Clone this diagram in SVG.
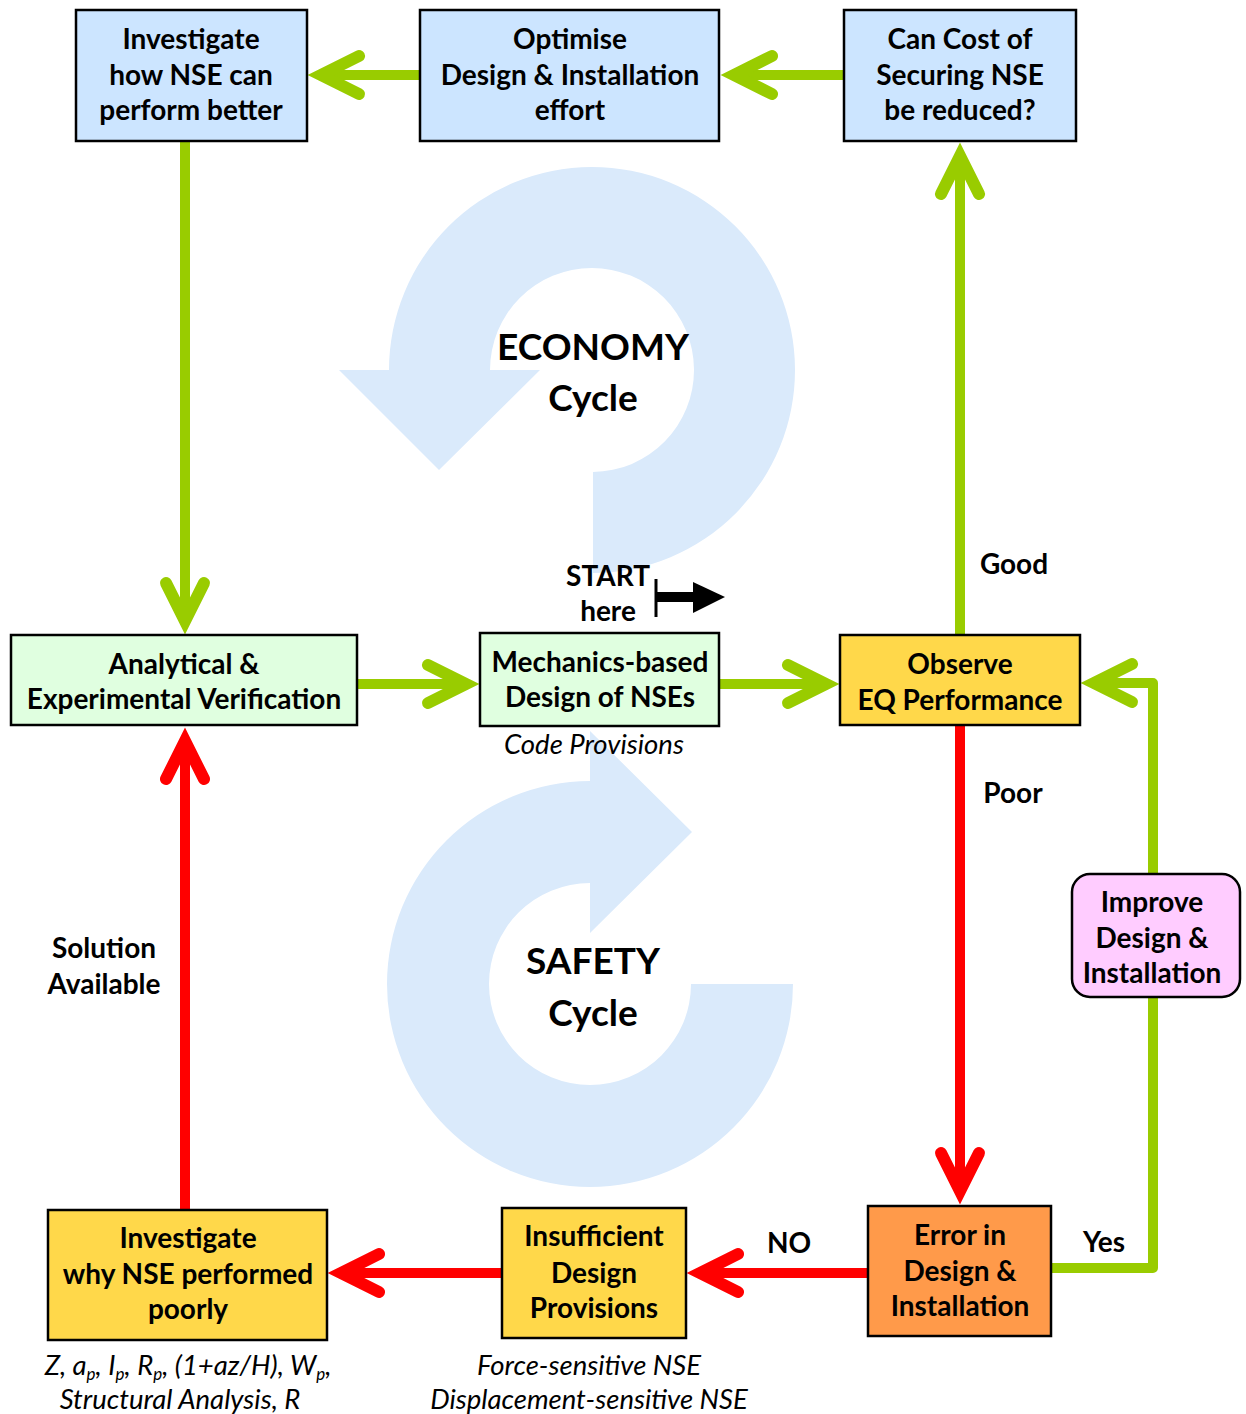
<svg xmlns="http://www.w3.org/2000/svg" width="1246" height="1414" viewBox="0 0 1246 1414">
<style>
.bx{stroke:#000;stroke-width:2.5}
.blue{fill:#CCE5FF}
.grn{fill:#E0FFE0}
.yel{fill:#FFD84A}
.org{fill:#FF9A4A}
.pnk{fill:#FFCCFF}
.t{font-family:Lato,"Open Sans",sans-serif;font-weight:bold;font-size:28px;text-anchor:middle;fill:#000}
.it{font-family:Lato,"Open Sans",sans-serif;font-style:italic;font-size:27.5px;text-anchor:middle;fill:#000}
.big{font-family:Lato,"Open Sans",sans-serif;font-weight:bold;font-size:37px;text-anchor:middle;fill:#000}
.g{stroke:#99CC00;stroke-width:10;fill:none;stroke-linejoin:round;marker-end:url(#ag)}
.r{stroke:#FF0000;stroke-width:10;fill:none;marker-end:url(#ar)}
.cyc{fill:#DAEAFB}
</style>
<defs>
<marker id="ag" markerUnits="userSpaceOnUse" orient="auto" refX="0" refY="0" markerWidth="80" markerHeight="80" viewBox="-45 -40 80 80" overflow="visible">
<path d="M -38 -19 L 0 0 L -38 19" fill="none" stroke="#99CC00" stroke-width="12" stroke-linecap="round" stroke-linejoin="miter"/>
</marker>
<marker id="ar" markerUnits="userSpaceOnUse" orient="auto" refX="0" refY="0" markerWidth="80" markerHeight="80" viewBox="-45 -40 80 80" overflow="visible">
<path d="M -38 -19 L 0 0 L -38 19" fill="none" stroke="#FF0000" stroke-width="12" stroke-linecap="round" stroke-linejoin="miter"/>
</marker>
</defs>
<rect width="1246" height="1414" fill="#fff"/>

<g id="economy-cycle">
<path class="cyc" d="M 593 573 A 203 203 0 1 0 389 370 L 339 370 L 439 470 L 540 370 L 490 370 A 102 102 0 1 1 593 472 Z"/>
<text class="big" x="593" y="360">ECONOMY</text>
<text class="big" x="593" y="411">Cycle</text>
</g>
<g id="safety-cycle">
<path class="cyc" d="M 793 984 A 203 203 0 1 1 590 781 L 590 731 L 692 832 L 590 933 L 590 883 A 101 101 0 1 0 691 984 Z"/>
<text class="big" x="593" y="974">SAFETY</text>
<text class="big" x="593" y="1026">Cycle</text>
</g>

<g id="connectors">
<path class="g" d="M 420 75 L 321 75"/>
<path class="g" d="M 844 75 L 734 75"/>
<path class="g" d="M 185 141 L 185 621"/>
<path class="g" d="M 357 684 L 466 684"/>
<path class="g" d="M 719 684 L 826 684"/>
<path class="g" d="M 960 635 L 960 156"/>
<path class="r" d="M 960 725 L 960 1191"/>
<path class="r" d="M 868 1273 L 700 1273"/>
<path class="r" d="M 502 1273 L 341 1273"/>
<path class="r" d="M 185 1210 L 185 741"/>
<path class="g" d="M 1051 1268 L 1153 1268 L 1153 683 L 1094 683"/>
</g>

<g id="n-investigate-better">
<rect class="bx blue" x="76" y="10" width="231" height="131"/>
<text class="t" x="191" y="49">Investigate</text>
<text class="t" x="191" y="85">how NSE can</text>
<text class="t" x="191" y="120">perform better</text>
</g>
<g id="n-optimise">
<rect class="bx blue" x="420" y="10" width="299" height="131"/>
<text class="t" x="570" y="49">Optimise</text>
<text class="t" x="570" y="85">Design &amp; Installation</text>
<text class="t" x="570" y="120">effort</text>
</g>
<g id="n-cost">
<rect class="bx blue" x="844" y="10" width="232" height="131"/>
<text class="t" x="960" y="49">Can Cost of</text>
<text class="t" x="960" y="85">Securing NSE</text>
<text class="t" x="960" y="120">be reduced?</text>
</g>
<g id="n-verification">
<rect class="bx grn" x="11" y="635" width="346" height="90"/>
<text class="t" x="184" y="674">Analytical &amp;</text>
<text class="t" x="184" y="709">Experimental Verification</text>
</g>
<g id="n-mechanics">
<rect class="bx grn" x="480" y="633" width="239" height="93"/>
<text class="t" x="600" y="672">Mechanics-based</text>
<text class="t" x="600" y="707">Design of NSEs</text>
</g>
<g id="n-observe">
<rect class="bx yel" x="840" y="635" width="240" height="90"/>
<text class="t" x="960" y="674">Observe</text>
<text class="t" x="960" y="710">EQ Performance</text>
</g>
<g id="n-improve">
<rect class="bx pnk" x="1072" y="874" width="168" height="123" rx="18" ry="18"/>
<text class="t" x="1152" y="912">Improve</text>
<text class="t" x="1152" y="948">Design &amp;</text>
<text class="t" x="1152" y="983">Installation</text>
</g>
<g id="n-error">
<rect class="bx org" x="868" y="1206" width="183" height="130"/>
<text class="t" x="960" y="1245">Error in</text>
<text class="t" x="960" y="1281">Design &amp;</text>
<text class="t" x="960" y="1316">Installation</text>
</g>
<g id="n-insufficient">
<rect class="bx yel" x="502" y="1208" width="184" height="130"/>
<text class="t" x="594" y="1246">Insufficient</text>
<text class="t" x="594" y="1283">Design</text>
<text class="t" x="594" y="1318">Provisions</text>
</g>
<g id="n-investigate-poorly">
<rect class="bx yel" x="48" y="1210" width="279" height="130"/>
<text class="t" x="188" y="1248">Investigate</text>
<text class="t" x="188" y="1284">why NSE performed</text>
<text class="t" x="188" y="1319">poorly</text>
</g>

<g id="start">
<line x1="656" y1="579" x2="656" y2="617" stroke="#000" stroke-width="3"/>
<rect x="656" y="592" width="39" height="10" fill="#000"/>
<polygon points="693,582 725,597 693,613" fill="#000"/>
<text class="t" x="608" y="586">START</text>
<text class="t" x="608" y="621">here</text>
</g>

<g id="labels">
<text class="t" x="1014" y="574">Good</text>
<text class="t" x="1013" y="803">Poor</text>
<text class="t" x="789" y="1253">NO</text>
<text class="t" x="1104" y="1252">Yes</text>
<text class="t" x="104" y="958">Solution</text>
<text class="t" x="104" y="994">Available</text>
<text class="it" x="594" y="754">Code Provisions</text>
<text class="it" x="188" y="1375">Z, a<tspan font-size="17" dy="5">p</tspan><tspan dy="-5">, I</tspan><tspan font-size="17" dy="5">p</tspan><tspan dy="-5">, R</tspan><tspan font-size="17" dy="5">p</tspan><tspan dy="-5">, (1+az/H), W</tspan><tspan font-size="17" dy="5">p</tspan><tspan dy="-5">,</tspan></text>
<text class="it" x="180" y="1409">Structural Analysis, R</text>
<text class="it" x="589" y="1375">Force-sensitive NSE</text>
<text class="it" x="589" y="1409">Displacement-sensitive NSE</text>
</g>
</svg>
